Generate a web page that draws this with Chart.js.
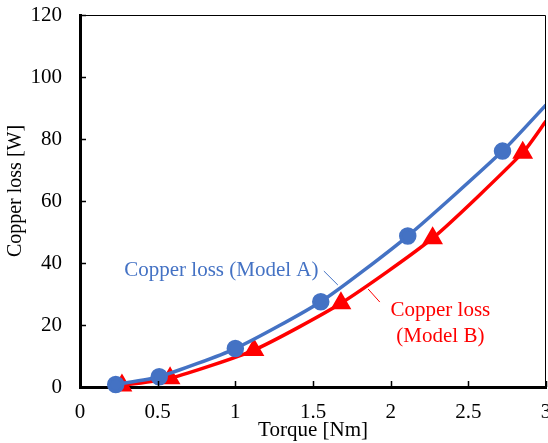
<!DOCTYPE html>
<html>
<head>
<meta charset="utf-8">
<script src="https://cdn.jsdelivr.net/npm/chart.js@4/dist/chart.umd.min.js"></script>
<style>
  html, body { margin: 0; padding: 0; background: #fff; }
  #wrap { width: 548px; height: 443px; }
</style>
</head>
<body>
<div id="wrap"><canvas id="loss"></canvas></div>
<script>
// torque [Nm] / copper loss [W]; last entry of each list is the line running out to the frame
var torqueA = [0.23, 0.51, 1.0, 1.55, 2.11, 2.72, 3.0];
var lossA   = [0.8, 3.3, 12.4, 27.5, 48.7, 76.1, 91.0];
var torqueB = [0.27, 0.58, 1.12, 1.68, 2.27, 2.85, 3.0];
var lossB   = [0.5, 2.8, 11.9, 27.0, 48.0, 75.6, 85.8];

var xTicks = [0, 0.5, 1, 1.5, 2, 2.5, 3];
var yTicks = [0, 20, 40, 60, 80, 100, 120];

var BLUE = '#4472C4';
var RED = '#FF0000';
var FONT = '"Liberation Serif", "Times New Roman", serif';

function pts(xs, ys) {
  return xs.map(function (x, i) { return { x: x, y: ys[i] }; });
}
function markers(n, r) {
  return Array.from({ length: n }, function (_, i) { return i === n - 1 ? 0 : r; });
}

// labels with leader lines, placed in data units
var notes = [
  { text: 'Copper loss (Model A)', color: BLUE, x: 0.285, y: 37.6, align: 'left', lead: [1.57, 37.4, 1.66, 32.9] },
  { text: 'Copper loss', color: RED, x: 2.32, y: 24.8, align: 'center', lead: [1.855, 31.6, 1.93, 27.4] },
  { text: '(Model B)', color: RED, x: 2.32, y: 16.3, align: 'center' }
];

var framePlugin = {
  id: 'frame',
  afterDraw: function (chart) {
    var ctx = chart.ctx, a = chart.chartArea;
    var sx = chart.scales.x, sy = chart.scales.y;
    ctx.save();
    // thin top/right edges
    ctx.strokeStyle = '#000';
    ctx.lineWidth = 1;
    ctx.beginPath();
    ctx.moveTo(a.left, a.top + 0.5); ctx.lineTo(a.right - 0.5, a.top + 0.5); ctx.lineTo(a.right - 0.5, a.bottom);
    ctx.stroke();
    // inward tick marks
    ctx.lineWidth = 1.5;
    ctx.beginPath();
    xTicks.forEach(function (v) {
      var px = Math.round(sx.getPixelForValue(v)) + 0.5;
      ctx.moveTo(px, a.bottom); ctx.lineTo(px, a.bottom - 6);
    });
    yTicks.forEach(function (v) {
      var py = Math.round(sy.getPixelForValue(v)) + 0.5;
      ctx.moveTo(a.left, py); ctx.lineTo(a.left + 6, py);
    });
    ctx.stroke();
    // y axis title, sitting a little above the middle
    ctx.fillStyle = '#000';
    ctx.font = '20px ' + FONT;
    ctx.textAlign = 'center';
    ctx.textBaseline = 'middle';
    ctx.translate(16, 191);
    ctx.rotate(-Math.PI / 2);
    ctx.fillText('Copper loss [W]', 0, 0);
    ctx.setTransform(1, 0, 0, 1, 0, 0);
    // annotations
    ctx.font = '21px ' + FONT;
    notes.forEach(function (n) {
      ctx.fillStyle = n.color;
      ctx.textAlign = n.align;
      ctx.fillText(n.text, sx.getPixelForValue(n.x), sy.getPixelForValue(n.y));
      if (n.lead) {
        ctx.strokeStyle = n.color;
        ctx.lineWidth = 1;
        ctx.beginPath();
        ctx.moveTo(sx.getPixelForValue(n.lead[0]), sy.getPixelForValue(n.lead[1]));
        ctx.lineTo(sx.getPixelForValue(n.lead[2]), sy.getPixelForValue(n.lead[3]));
        ctx.stroke();
      }
    });
    ctx.restore();
  }
};

new Chart(document.getElementById('loss'), {
  type: 'scatter',
  data: {
    datasets: [
      {
        label: 'Copper loss (Model A)',
        data: pts(torqueA, lossA),
        showLine: true,
        borderColor: BLUE,
        backgroundColor: BLUE,
        borderWidth: 3.5,
        tension: 0.2,
        pointStyle: 'circle',
        pointRadius: markers(torqueA.length, 7),
        clip: { left: 0, top: 0, right: 0, bottom: false }
      },
      {
        label: 'Copper loss (Model B)',
        data: pts(torqueB, lossB),
        showLine: true,
        borderColor: RED,
        backgroundColor: RED,
        borderWidth: 3.5,
        tension: 0.2,
        pointStyle: 'triangle',
        pointRadius: markers(torqueB.length, 8.5),
        clip: { left: 0, top: 0, right: 0, bottom: false }
      }
    ]
  },
  plugins: [framePlugin],
  options: {
    responsive: true,
    maintainAspectRatio: false,
    animation: false,
    layout: { autoPadding: false, padding: { top: 15, right: 2, left: 0, bottom: 0 } },
    plugins: { legend: { display: false }, tooltip: { enabled: false } },
    scales: {
      x: {
        type: 'linear',
        min: 0, max: 3,
        afterBuildTicks: function (s) { s.ticks = xTicks.map(function (v) { return { value: v }; }); },
        afterFit: function (s) { s.height = 56; s.paddingLeft = 0; s.paddingRight = 0; },
        grid: { display: false, drawTicks: false },
        border: { display: true, color: '#000', width: 3 },
        ticks: {
          color: '#000', padding: 13, maxRotation: 0,
          font: { family: FONT, size: 21 },
          callback: function (v) { return String(v); }
        },
        title: { display: true, text: 'Torque [Nm]', color: '#000', font: { family: FONT, size: 21 }, padding: { top: 0, bottom: 0 } }
      },
      y: {
        type: 'linear',
        min: 0, max: 120,
        afterBuildTicks: function (s) { s.ticks = yTicks.map(function (v) { return { value: v }; }); },
        afterFit: function (s) { s.width = 80; s.paddingTop = 0; s.paddingBottom = 0; },
        grid: { display: false, drawTicks: false },
        border: { display: true, color: '#000', width: 3 },
        ticks: {
          color: '#000', padding: 18,
          font: { family: FONT, size: 21 },
          callback: function (v) { return String(v); }
        }
      }
    }
  }
});
</script>
</body>
</html>
